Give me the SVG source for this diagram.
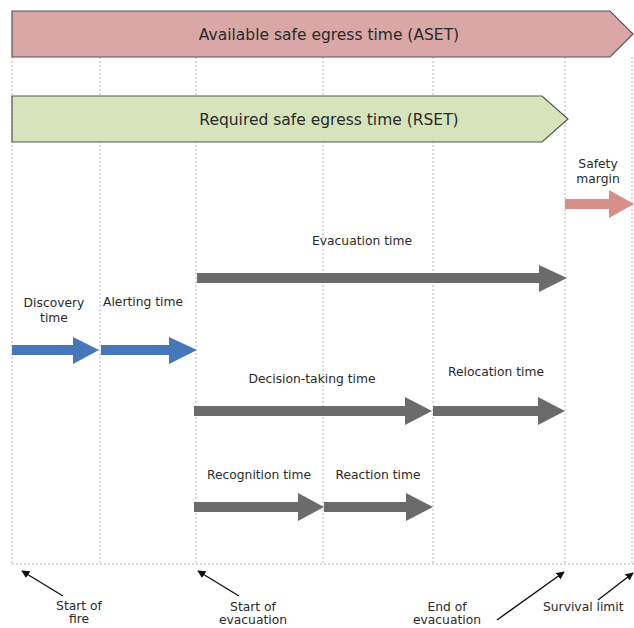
<svg xmlns="http://www.w3.org/2000/svg" width="634" height="628" viewBox="0 0 634 628">
<defs>
<style>
.grid{stroke:#b5b5b5;stroke-width:1;stroke-dasharray:2,2;fill:none}
.band{stroke:#555;stroke-width:1.2}
.big{font-family:"DejaVu Sans",Verdana,sans-serif;font-size:15.5px;fill:#2a2a2a;text-anchor:middle}
.lbl{font-family:"DejaVu Sans",Verdana,sans-serif;font-size:12.3px;fill:#2a2a2a;text-anchor:middle}
.gray{fill:#6b6b6b}
.blue{fill:#4677b8}
.pink{fill:#d88e89}
.ptr{stroke:#111;stroke-width:1.4;fill:none;marker-end:url(#ah)}
</style>
<marker id="ah" viewBox="0 0 10 10" refX="9" refY="5" markerWidth="8" markerHeight="8" markerUnits="userSpaceOnUse" orient="auto">
<path d="M0,0 L10,5 L0,10 z" fill="#111"/>
</marker>
</defs>
<rect width="634" height="628" fill="#fff"/>
<g id="grid">
<line class="grid" x1="12" y1="57" x2="12" y2="564"/>
<line class="grid" x1="100" y1="57" x2="100" y2="564"/>
<line class="grid" x1="196" y1="57" x2="196" y2="564"/>
<line class="grid" x1="323" y1="57" x2="323" y2="564"/>
<line class="grid" x1="433" y1="57" x2="433" y2="564"/>
<line class="grid" x1="565" y1="57" x2="565" y2="564"/>
<line class="grid" x1="632" y1="57" x2="632" y2="564"/>
<line class="grid" x1="12" y1="564" x2="634" y2="564"/>
</g>
<g id="aset">
<polygon class="band" points="12,11 610,11 633,34 610,57 12,57" fill="#d9a7a5"/>
<text class="big" x="329" y="40">Available safe egress time (ASET)</text>
</g>
<g id="rset">
<polygon class="band" points="12,96 542,96 568,119 542,142 12,142" fill="#d6e3bb"/>
<text class="big" x="329" y="125">Required safe egress time (RSET)</text>
</g>
<g id="safety-margin">
<polygon class="pink" points="565,199 609,199 609,190 634,204 609,218 609,209 565,209"/>
<text class="lbl" x="598" y="168">Safety</text>
<text class="lbl" x="598" y="183">margin</text>
</g>
<g id="evacuation">
<polygon class="gray" points="197,273 539,273 539,265 567,278 539,292 539,283 197,283"/>
<text class="lbl" x="362" y="245">Evacuation time</text>
</g>
<g id="discovery">
<polygon class="blue" points="12,345 73,345 73,337 99,350 73,364 73,355 12,355"/>
<text class="lbl" x="54" y="307">Discovery</text>
<text class="lbl" x="54" y="322">time</text>
</g>
<g id="alerting">
<polygon class="blue" points="101,345 169,345 169,337 197,350 169,364 169,355 101,355"/>
<text class="lbl" x="143" y="306">Alerting time</text>
</g>
<g id="decision">
<polygon class="gray" points="194,406 405,406 405,397 432,411 405,425 405,416 194,416"/>
<text class="lbl" x="312" y="383">Decision-taking time</text>
</g>
<g id="relocation">
<polygon class="gray" points="433,406 538,406 538,397 565,411 538,425 538,416 433,416"/>
<text class="lbl" x="496" y="376">Relocation time</text>
</g>
<g id="recognition">
<polygon class="gray" points="194,502 298,502 298,493 324,507 298,521 298,512 194,512"/>
<text class="lbl" x="259" y="479">Recognition time</text>
</g>
<g id="reaction">
<polygon class="gray" points="324,502 406,502 406,493 433,507 406,521 406,512 324,512"/>
<text class="lbl" x="378" y="479">Reaction time</text>
</g>
<g id="connectors">
<line class="ptr" x1="63" y1="596" x2="22" y2="571"/>
<line class="ptr" x1="239" y1="596" x2="198" y2="571"/>
<line class="ptr" x1="497" y1="620" x2="564" y2="572"/>
<line class="ptr" x1="598" y1="600" x2="633" y2="573"/>
</g>
<g id="start-of-fire">
<text class="lbl" x="79" y="610">Start of</text>
<text class="lbl" x="79" y="623">fire</text>
</g>
<g id="start-of-evacuation">
<text class="lbl" x="253" y="611">Start of</text>
<text class="lbl" x="253" y="624">evacuation</text>
</g>
<g id="end-of-evacuation">
<text class="lbl" x="447" y="611">End of</text>
<text class="lbl" x="447" y="624">evacuation</text>
</g>
<g id="survival-limit">
<text class="lbl" x="543" y="611" style="text-anchor:start">Survival limit</text>
</g>
</svg>
